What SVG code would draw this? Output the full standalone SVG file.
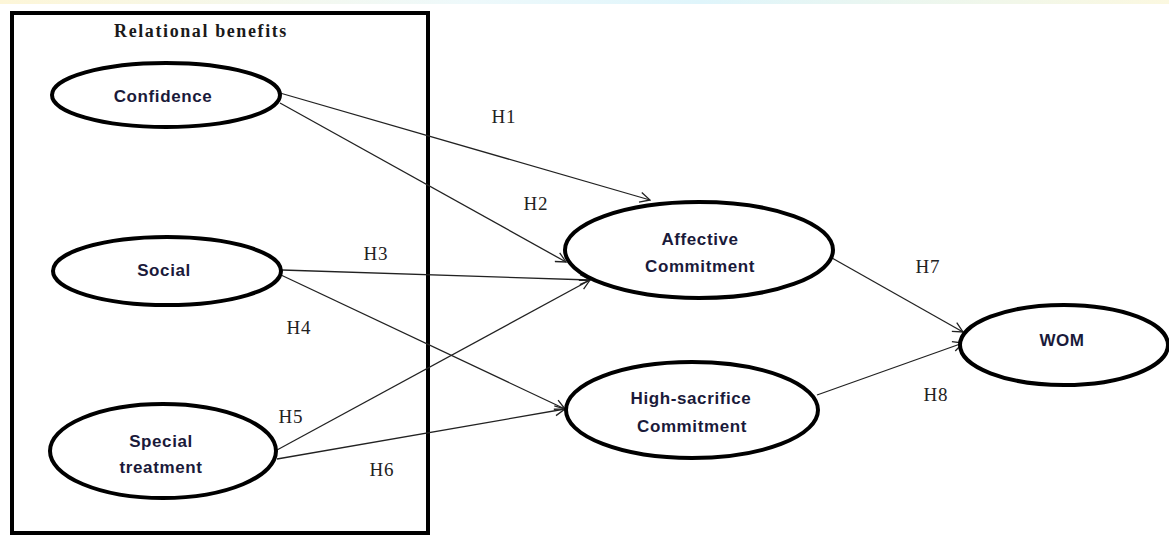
<svg xmlns="http://www.w3.org/2000/svg" width="1169" height="538" viewBox="0 0 1169 538">
<style>
.node ellipse{fill:#fff;stroke:#000;stroke-width:4}
.node text{font-family:"Liberation Sans",Arial,sans-serif;font-weight:bold;font-size:17px;letter-spacing:0.6px;fill:#1a1a3a;text-anchor:middle}
.edges line{stroke:#222;stroke-width:1.3;marker-end:url(#arr)}
.lbl{font-family:"Liberation Serif","Times New Roman",serif;font-size:19px;fill:#222;letter-spacing:0.8px;text-anchor:middle}
</style>
<defs>
<marker id="arr" viewBox="0 0 12 12" refX="11" refY="6" markerWidth="12" markerHeight="12" markerUnits="userSpaceOnUse" orient="auto">
<path d="M1,1 L11,6 L1,11" fill="none" stroke="#222" stroke-width="1.3"/>
</marker>
<linearGradient id="topg" x1="0" x2="1" y1="0" y2="0">
<stop offset="0" stop-color="#fdf6d8"/>
<stop offset="0.4" stop-color="#eef9fb"/>
<stop offset="0.6" stop-color="#dff5fb"/>
<stop offset="1" stop-color="#fbf8e0"/>
</linearGradient>
</defs>
<rect width="1169" height="538" fill="#fff"/>
<rect width="1169" height="4" fill="url(#topg)"/>
<g id="group-relational-benefits">
<rect x="12" y="13" width="416" height="520" fill="none" stroke="#000" stroke-width="4"/>
<text x="201" y="37" style="font-family:'Liberation Serif','Times New Roman',serif;font-weight:bold;font-size:18px;letter-spacing:1.6px;fill:#1a1a1a;text-anchor:middle">Relational benefits</text>
</g>
<g class="edges" id="connectors">
<line x1="280" y1="93" x2="650" y2="200"/>
<line x1="280" y1="103" x2="566" y2="262"/>
<line x1="282" y1="270" x2="590" y2="280"/>
<line x1="281" y1="275" x2="565" y2="409"/>
<line x1="277" y1="450" x2="590" y2="280"/>
<line x1="277" y1="459" x2="565" y2="409"/>
<line x1="832" y1="258" x2="963" y2="332"/>
<line x1="817" y1="395" x2="963" y2="343"/>
</g>
<g id="labels">
<text class="lbl" x="504" y="123">H1</text>
<text class="lbl" x="536" y="210">H2</text>
<text class="lbl" x="376" y="260">H3</text>
<text class="lbl" x="299" y="334">H4</text>
<text class="lbl" x="291" y="423">H5</text>
<text class="lbl" x="382" y="476">H6</text>
<text class="lbl" x="928" y="273">H7</text>
<text class="lbl" x="936" y="401">H8</text>
</g>
<g class="node" id="confidence">
<ellipse cx="166" cy="95" rx="114" ry="32"/>
<text x="163" y="102">Confidence</text>
</g>
<g class="node" id="social">
<ellipse cx="167" cy="271" rx="114" ry="34"/>
<text x="164" y="276">Social</text>
</g>
<g class="node" id="special-treatment">
<ellipse cx="163" cy="451" rx="113" ry="47"/>
<text x="161" y="447">Special</text>
<text x="161" y="473">treatment</text>
</g>
<g class="node" id="affective-commitment">
<ellipse cx="699" cy="250" rx="134" ry="48"/>
<text x="700" y="245">Affective</text>
<text x="700" y="272">Commitment</text>
</g>
<g class="node" id="high-sacrifice-commitment">
<ellipse cx="692" cy="410" rx="126" ry="48"/>
<text x="691" y="404">High-sacrifice</text>
<text x="692" y="432">Commitment</text>
</g>
<g class="node" id="wom">
<ellipse cx="1064" cy="345" rx="104" ry="40"/>
<text x="1062" y="346">WOM</text>
</g>
</svg>
